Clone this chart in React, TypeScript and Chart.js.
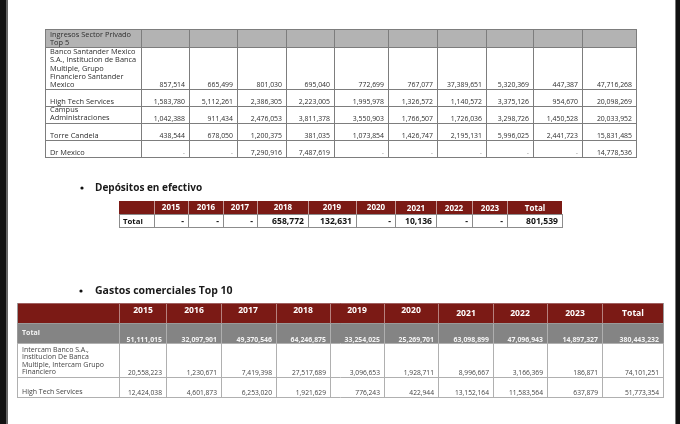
import React, { useEffect, useRef } from 'react';
import { Chart, registerables } from 'chart.js';
Chart.register(...registerables);

// ---------- data ----------
const YEARS = ['2015', '2016', '2017', '2018', '2019', '2020', '2021', '2022', '2023'];
const TOTAL_LABEL = 'Total';

const INGRESOS_TITLE = 'Ingresos Sector Privado\nTop 5';
const INGRESOS_NAMES = [
  'Banco Santander Mexico\nS.A., Institucion de Banca\nMultiple, Grupo\nFinanciero Santander\nMexico',
  'High Tech Services',
  'Campus\nAdministraciones',
  'Torre Candela',
  'Dr Mexico',
];
const ING_SANTANDER = [857514, 665499, 801030, 695040, 772699, 767077, 37389651, 5320369, 447387, 47716268];
const ING_HIGHTECH = [1583780, 5112261, 2386305, 2223005, 1995978, 1326572, 1140572, 3375126, 954670, 20098269];
const ING_CAMPUS = [1042388, 911434, 2476053, 3811378, 3550903, 1766507, 1726036, 3298726, 1450528, 20033952];
const ING_TORRE = [438544, 678050, 1200375, 381035, 1073854, 1426747, 2195131, 5996025, 2441723, 15831485];
const ING_DRMEXICO = [null, null, 7290916, 7487619, null, null, null, null, null, 14778536];

const DEPOSITOS_TITLE = 'Depósitos en efectivo';
const DEPOSITOS_ROW_LABEL = 'Total';
const DEPOSITOS_TOTAL = [null, null, null, 658772, 132631, null, 10136, null, null, 801539];

const GASTOS_TITLE = 'Gastos comerciales Top 10';
const GASTOS_NAMES = [
  'Total',
  'Intercam Banco S.A.,\nInstitucion De Banca\nMultiple, Intercam Grupo\nFinanciero',
  'High Tech Services',
];
const GASTOS_TOTAL = [51111015, 32097901, 49370546, 64246875, 33254025, 25269701, 63098899, 47096943, 14897327, 380443232];
const GASTOS_INTERCAM = [20558223, 1230671, 7419398, 27517689, 3096653, 1928711, 8996667, 3166369, 186871, 74101251];
const GASTOS_HIGHTECH = [12424038, 4601873, 6253020, 1921629, 776243, 422944, 13152164, 11583564, 637879, 51773354];

// ---------- layout (chart units) ----------
const T1_COLS = [45, 141, 189, 237, 286, 334, 388, 437, 486, 533, 582, 636];
const T1_ROWS = [29, 47, 89, 106, 123, 140, 157];
const T2_COLS = [119, 154, 188, 223, 257, 308, 356, 395, 436, 472, 507, 562];
const T2_ROWS = [201, 214, 227];
const T3_COLS = [17, 119, 166, 221, 276, 330, 384, 438, 493, 547, 602, 663];
const T3_ROWS = [303, 323, 343, 377, 397];

const MAROON = '#7b1a15';
const FONT = '"Open Sans", "DejaVu Sans", sans-serif';

const fmt = (v: number | null) => (v === null ? '-' : v.toLocaleString('en-US'));

const tablePlugin = {
  id: 'tables',
  afterDraw(chart: any) {
    const ctx: CanvasRenderingContext2D = chart.ctx;
    const sx = chart.scales.x;
    const sy = chart.scales.y;
    const X = (v: number) => Math.round(sx.getPixelForValue(v));
    const Y = (v: number) => Math.round(sy.getPixelForValue(v));

    const rect = (x0: number, y0: number, x1: number, y1: number, color: string) => {
      ctx.fillStyle = color;
      ctx.fillRect(X(x0), Y(y0), X(x1) - X(x0), Y(y1) - Y(y0));
    };
    const hline = (x0: number, x1: number, y: number, color: string) => {
      ctx.strokeStyle = color;
      ctx.lineWidth = 1;
      ctx.beginPath();
      ctx.moveTo(X(x0), Y(y) + 0.5);
      ctx.lineTo(X(x1) + 1, Y(y) + 0.5);
      ctx.stroke();
    };
    const vline = (x: number, y0: number, y1: number, color: string) => {
      ctx.strokeStyle = color;
      ctx.lineWidth = 1;
      ctx.beginPath();
      ctx.moveTo(X(x) + 0.5, Y(y0));
      ctx.lineTo(X(x) + 0.5, Y(y1));
      ctx.stroke();
    };
    const text = (s: string, x: number, y: number, font: string, color: string, align: CanvasTextAlign, lh = 8) => {
      ctx.font = font;
      ctx.fillStyle = color;
      ctx.textAlign = align;
      ctx.textBaseline = 'middle';
      const lines = s.split('\n');
      lines.forEach((ln, i) => ctx.fillText(ln, X(x), Y(y) + i * lh));
    };

    ctx.save();
    // page edges (dark frame of the photo)
    rect(0, 0, 6, 424, '#111');
    rect(6, 0, 8, 424, '#666');
    rect(676, 0, 680, 424, '#111');
    rect(675, 0, 676, 424, '#777');

    // ---------------- Table 1: Ingresos ----------------
    rect(T1_COLS[0], T1_ROWS[0], T1_COLS[T1_COLS.length - 1], T1_ROWS[1], '#b3b3b3');
    const t1Color = '#7d7d7d';
    T1_ROWS.forEach((r) => hline(T1_COLS[0], T1_COLS[T1_COLS.length - 1], r, t1Color));
    T1_COLS.forEach((c) => vline(c, T1_ROWS[0], T1_ROWS[T1_ROWS.length - 1] + 1, t1Color));
    text(INGRESOS_TITLE, T1_COLS[0] + 5, 35, `7.4px ${FONT}`, '#2e2e2e', 'left', 8);
    const t1Data = [ING_SANTANDER, ING_HIGHTECH, ING_CAMPUS, ING_TORRE, ING_DRMEXICO];
    t1Data.forEach((row, ri) => {
      const bottom = T1_ROWS[ri + 2];
      const name = INGRESOS_NAMES[ri];
      const nLines = name.split('\n').length;
      text(name, T1_COLS[0] + 5, bottom - 4.5 - (nLines - 1) * 8.2, `7.4px ${FONT}`, '#2e2e2e', 'left', 8.2);
      row.forEach((v, ci) => {
        text(fmt(v), T1_COLS[ci + 2] - 4, bottom - 4.5, `6.9px ${FONT}`, v === null ? '#999' : '#2e2e2e', 'right');
      });
    });

    // ---------------- Table 2: Depositos ----------------
    ctx.fillStyle = '#111';
    ctx.beginPath();
    ctx.arc(X(82), Y(188), 1.6, 0, Math.PI * 2);
    ctx.fill();
    text(DEPOSITOS_TITLE, 95, 188, `bold 10px ${FONT}`, '#1a1a1a', 'left');
    rect(T2_COLS[0], T2_ROWS[0], T2_COLS[T2_COLS.length - 1], T2_ROWS[1], MAROON);
    for (let i = 1; i < T2_COLS.length - 1; i++) vline(T2_COLS[i], T2_ROWS[0], T2_ROWS[1], 'rgba(255,255,255,0.55)');
    const t2Line = '#8c8c8c';
    hline(T2_COLS[0], T2_COLS[T2_COLS.length - 1], T2_ROWS[1], t2Line);
    hline(T2_COLS[0], T2_COLS[T2_COLS.length - 1], T2_ROWS[2], t2Line);
    T2_COLS.forEach((c) => vline(c, T2_ROWS[1], T2_ROWS[2] + 1, t2Line));
    vline(T2_COLS[0], T2_ROWS[0], T2_ROWS[1], MAROON);
    [...YEARS, TOTAL_LABEL].forEach((h, i) => {
      const cx = (T2_COLS[i + 1] + T2_COLS[i + 2]) / 2;
      text(h, cx, i < 6 ? 207.5 : 209, `bold 8px ${FONT}`, '#fff', 'center');
    });
    text(DEPOSITOS_ROW_LABEL, T2_COLS[0] + 4, 221.5, `bold 7.8px ${FONT}`, '#111', 'left');
    DEPOSITOS_TOTAL.forEach((v, ci) => {
      text(fmt(v), T2_COLS[ci + 2] - 4, 221.5, `bold 8.6px ${FONT}`, '#111', 'right');
    });

    // ---------------- Table 3: Gastos ----------------
    ctx.fillStyle = '#111';
    ctx.beginPath();
    ctx.arc(X(81), Y(291), 1.6, 0, Math.PI * 2);
    ctx.fill();
    text(GASTOS_TITLE, 95, 291, `bold 10.5px ${FONT}`, '#1a1a1a', 'left');
    const L = T3_COLS[0];
    const R = T3_COLS[T3_COLS.length - 1];
    rect(L, T3_ROWS[0], R, T3_ROWS[1], MAROON);
    rect(L, T3_ROWS[1], R, T3_ROWS[2], '#848484');
    for (let i = 1; i < T3_COLS.length - 1; i++) {
      vline(T3_COLS[i], T3_ROWS[0], T3_ROWS[1], 'rgba(255,255,255,0.45)');
      vline(T3_COLS[i], T3_ROWS[1], T3_ROWS[2], 'rgba(255,255,255,0.35)');
    }
    const t3Line = '#b0b0b0';
    hline(L, R, T3_ROWS[0], '#a06060');
    hline(L, R, T3_ROWS[1], '#9a9a9a');
    for (let i = 2; i < T3_ROWS.length; i++) hline(L, R, T3_ROWS[i], t3Line);
    T3_COLS.forEach((c) => vline(c, T3_ROWS[2], T3_ROWS[T3_ROWS.length - 1] + 1, t3Line));
    vline(L, T3_ROWS[0], T3_ROWS[2], '#9a9a9a');
    vline(R, T3_ROWS[0], T3_ROWS[2], '#9a9a9a');
    [...YEARS, TOTAL_LABEL].forEach((h, i) => {
      const cx = (T3_COLS[i + 1] + T3_COLS[i + 2]) / 2;
      text(h, cx, i < 6 ? 311 : 314, `bold 8.6px ${FONT}`, '#fff', 'center');
    });
    text(GASTOS_NAMES[0], L + 5, 333, `bold 7px ${FONT}`, '#f4f4f4', 'left');
    GASTOS_TOTAL.forEach((v, ci) => {
      text(fmt(v), T3_COLS[ci + 2] - 4, 339.5, `bold 6.9px ${FONT}`, '#f4f4f4', 'right');
    });
    const t3Data = [GASTOS_INTERCAM, GASTOS_HIGHTECH];
    t3Data.forEach((row, ri) => {
      const bottom = T3_ROWS[ri + 3];
      const name = GASTOS_NAMES[ri + 1];
      const nLines = name.split('\n').length;
      text(name, L + 5, bottom - 5 - (nLines - 1) * 7.4, `7px ${FONT}`, '#444', 'left', 7.4);
      row.forEach((v, ci) => {
        text(fmt(v), T3_COLS[ci + 2] - 4, bottom - 4, `6.7px ${FONT}`, '#444', 'right');
      });
    });
    ctx.restore();
  },
};

export default function App() {
  const ref = useRef<HTMLCanvasElement>(null);
  useEffect(() => {
    const chart = new Chart(ref.current as HTMLCanvasElement, {
      type: 'scatter',
      data: { datasets: [{ data: [], pointRadius: 0 }] },
      options: {
        animation: false,
        responsive: false,
        maintainAspectRatio: false,
        events: [],
        layout: { padding: 0 },
        plugins: { legend: { display: false }, tooltip: { enabled: false } },
        scales: {
          x: { type: 'linear', min: 0, max: 680, display: false },
          y: { type: 'linear', min: 0, max: 424, reverse: true, display: false },
        },
      },
      plugins: [tablePlugin as any],
    });
    return () => chart.destroy();
  }, []);
  return (
    <div style={{ position: 'fixed', left: 0, top: 0, width: 680, height: 424, background: '#fff' }}>
      <canvas ref={ref} width={680} height={424} style={{ display: 'block', width: 680, height: 424 }} />
    </div>
  );
}
